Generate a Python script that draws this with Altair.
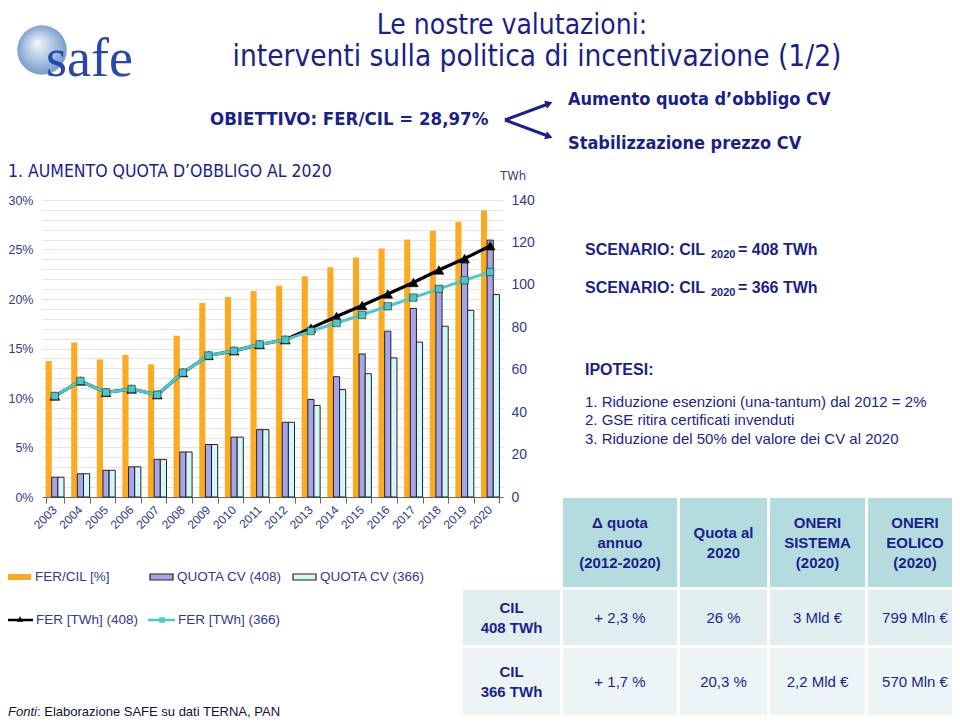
import altair as alt
import pandas as pd

# ---------------- data ----------------
years = [str(y) for y in range(2003, 2021)]
fer_cil_pct = [13.75, 15.6, 13.9, 14.35, 13.4, 16.3, 19.6, 20.2, 20.8, 21.35,
               22.3, 23.2, 24.2, 25.1, 26.0, 26.9, 27.8, 28.97]
quota_cv_408 = [2.0, 2.35, 2.7, 3.05, 3.8, 4.55, 5.3, 6.05, 6.8, 7.55,
                9.85, 12.15, 14.45, 16.75, 19.05, 21.35, 23.65, 25.95]
quota_cv_366 = [2.0, 2.35, 2.7, 3.05, 3.8, 4.55, 5.3, 6.05, 6.8, 7.55,
                9.25, 10.85, 12.45, 14.05, 15.65, 17.25, 18.85, 20.45]
fer_twh_408 = [47.6, 54.7, 49.3, 50.9, 48.2, 58.6, 66.7, 68.9, 71.9, 74.1,
               79.6, 85.1, 90.3, 95.7, 101.1, 107.0, 112.4, 118.4]
fer_twh_366 = [47.6, 54.7, 49.3, 50.9, 48.2, 58.6, 66.7, 68.9, 71.9, 74.1,
               78.2, 82.0, 85.9, 89.9, 94.0, 98.1, 102.2, 106.1]

bar_series = ["FER/CIL [%]", "QUOTA CV (408)", "QUOTA CV (366)"]
line_series = ["FER [TWh] (408)", "FER [TWh] (366)"]

table_header = [["Δ quota", "annuo", "(2012-2020)"], ["Quota al", "2020"],
                ["ONERI", "SISTEMA", "(2020)"], ["ONERI", "EOLICO", "(2020)"]]
table_rowlabels = [["CIL", "408 TWh"], ["CIL", "366 TWh"]]
table_rows = [["+ 2,3 %", "26 %", "3 Mld €", "799 Mln €"],
              ["+ 1,7 %", "20,3 %", "2,2 Mld €", "570 Mln €"]]

ipotesi = ["1. Riduzione esenzioni (una-tantum) dal 2012 = 2%",
           "2. GSE ritira certificati invenduti",
           "3. Riduzione del 50% del valore dei CV al 2020"]

# ---------------- styles ----------------
NAVY = "#1B1F8A"
AXC = "#2F3A8C"
ORANGE = "#FBAA22"
PURPLE = "#A8A4EC"
LCYAN = "#D3F6F6"
CYAN = "#4CC8CA"
SANS = "Liberation Sans, Arial, sans-serif"
NARROW = "Liberation Sans Narrow, Arial Narrow, DejaVu Sans Condensed, sans-serif"
SERIF = "Liberation Serif, DejaVu Serif, serif"

# plot area placement on the page
OX, OY = 42, 200
W, H = 461, 297

bars_df = pd.DataFrame({
    "year": years * 3,
    "series": sum([[s] * len(years) for s in bar_series], []),
    "value": [v / 100 for v in fer_cil_pct + quota_cv_408 + quota_cv_366],
})
lines_df = pd.DataFrame({
    "year": years * 2,
    "series": sum([[s] * len(years) for s in line_series], []),
    "twh": fer_twh_408 + fer_twh_366,
})
years_df = pd.DataFrame({"year": years})

xscale = alt.Scale(paddingInner=0.28, paddingOuter=0.14)
xaxis = alt.Axis(title=None, labels=False, tickBand="extent", tickColor="#666666",
                 tickSize=6, domainColor="#666666", grid=False)
xenc = alt.X("year:N", scale=xscale, sort=years, axis=xaxis)

bars = alt.Chart(bars_df).mark_bar(stroke="#222222").encode(
    x=xenc,
    xOffset=alt.XOffset("series:N", sort=bar_series, scale=alt.Scale(domain=bar_series)),
    y=alt.Y("value:Q", scale=alt.Scale(domain=[0, 0.30], nice=False),
            axis=alt.Axis(title=None, orient="left", values=[i / 100 for i in range(0, 31)],
                          labelExpr="round(datum.value*100) % 5 == 0 ? round(datum.value*100) + '%' : ''",
                          labelFontSize=12.5, labelColor=AXC, labelFont=SANS, ticks=False,
                          domain=False, gridColor="#E4E4E4", labelPadding=9)),
    color=alt.Color("series:N", scale=alt.Scale(domain=bar_series, range=[ORANGE, PURPLE, LCYAN]),
                    legend=None),
    strokeWidth=alt.condition(alt.datum.series == bar_series[0], alt.value(0), alt.value(1)),
)

# rotated year labels, positioned by the shared x band scale
year_labels = alt.Chart(years_df).mark_text(
    angle=315, align="right", baseline="middle", fontSize=12, color=AXC, font=SANS
).encode(x=xenc, y=alt.value(H + 11), text="year:N")

yline = alt.Y("twh:Q", scale=alt.Scale(domain=[0, 140], nice=False),
              axis=alt.Axis(title=None, orient="right", values=list(range(0, 141, 20)),
                            labelFontSize=14, labelColor=AXC, labelFont=SANS, ticks=False,
                            domain=False, grid=False, labelPadding=8))

def line_layer(name, color, shape, size, width):
    d = alt.Chart(lines_df).transform_filter(alt.datum.series == name)
    ln = d.mark_line(color=color, strokeWidth=width).encode(x=xenc, y=yline)
    pt = d.mark_point(shape=shape, filled=True, color=color, size=size, opacity=1,
                      stroke="#222222" if shape != "triangle-up" else color,
                      strokeWidth=0.6).encode(x=xenc, y=yline)
    return ln, pt

l408, p408 = line_layer(line_series[0], "#000000", "triangle-up", 95, 3.2)
l366, p366 = line_layer(line_series[1], CYAN, "square", 55, 3)

lines = alt.layer(l408, p408, l366, p366)
main = alt.layer(bars, lines).resolve_scale(y="independent")

# ---------------- decorations ----------------
one = pd.DataFrame({"k": [0]})

def T(x, y, text, size=14, color=NAVY, weight="normal", font=SANS, align="left",
      baseline="middle", style=None, lh=None):
    kw = dict(fontSize=size, color=color, fontWeight=weight, font=font, align=align,
              baseline=baseline)
    if style:
        kw["fontStyle"] = style
    if lh:
        kw["lineHeight"] = lh
    return alt.Chart(one).mark_text(**kw).encode(
        x=alt.value(x - OX), y=alt.value(y - OY), text=alt.value(text))

def R(x1, y1, x2, y2, fill, stroke=None, sw=0):
    kw = dict(color=fill)
    if stroke:
        kw["stroke"] = stroke
        kw["strokeWidth"] = sw
    return alt.Chart(one).mark_rect(**kw).encode(
        x=alt.value(x1 - OX), x2=alt.value(x2 - OX), y=alt.value(y1 - OY), y2=alt.value(y2 - OY))

def L(x1, y1, x2, y2, color, sw):
    return alt.Chart(one).mark_rule(color=color, strokeWidth=sw).encode(
        x=alt.value(x1 - OX), x2=alt.value(x2 - OX), y=alt.value(y1 - OY), y2=alt.value(y2 - OY))

def P(x, y, shape, color, size, angle=0, stroke=None):
    kw = dict(shape=shape, filled=True, color=color, size=size, opacity=1, angle=angle)
    if stroke:
        kw["stroke"] = stroke
        kw["strokeWidth"] = 0.6
    return alt.Chart(one).mark_point(**kw).encode(x=alt.value(x - OX), y=alt.value(y - OY))

deco = []

# logo
globe = alt.Chart(one).mark_point(
    shape="circle", filled=True, size=2450, opacity=1,
    fill={"gradient": "radial", "x1": 0.4, "y1": 0.35, "r1": 0.0, "x2": 0.5, "y2": 0.5, "r2": 0.55,
          "stops": [{"offset": 0, "color": "#F4F8FC"}, {"offset": 1, "color": "#6E95C8"}]},
    stroke=None).encode(x=alt.value(42 - OX), y=alt.value(50 - OY))
deco.append(globe)
deco.append(T(46, 76, "safe", size=54, color="#2748A6", font=SERIF, baseline="alphabetic"))

# title
deco.append(T(512, 26, "Le nostre valutazioni:", size=28, font=NARROW, align="center"))
deco.append(T(537, 57, "interventi sulla politica di incentivazione (1/2)", size=29.5,
              font=NARROW, align="center"))

# objective + arrows
deco.append(T(210, 119, "OBIETTIVO:   FER/CIL = 28,97%", size=18.5, weight="bold", font=NARROW))
deco.append(L(505, 120, 548, 104, NAVY, 3))
deco.append(L(505, 120, 548, 136, NAVY, 3))
deco.append(P(549, 103.5, "triangle-up", NAVY, 70, angle=70))
deco.append(P(549, 136.5, "triangle-up", NAVY, 70, angle=110))
deco.append(T(568, 100, "Aumento quota d’obbligo CV", size=18, weight="bold", font=NARROW))
deco.append(T(568, 144, "Stabilizzazione prezzo CV", size=18, weight="bold", font=NARROW))

deco.append(T(8, 172, "1.  AUMENTO QUOTA D’OBBLIGO AL 2020", size=17.5, font=NARROW))
deco.append(T(500, 176, "TWh", size=13, color="#3A3F7A", font=NARROW))

# scenario texts
for yy, val in [(250, "= 408 TWh"), (288, "= 366 TWh")]:
    deco.append(T(585, yy, "SCENARIO: CIL", size=16, weight="bold"))
    deco.append(T(711, yy + 5, "2020", size=11, weight="bold"))
    deco.append(T(738, yy, val, size=16, weight="bold"))
deco.append(T(585, 370, "IPOTESI:", size=16, weight="bold"))
for i, s in enumerate(ipotesi):
    deco.append(T(585, 402 + i * 18.3, s, size=15))

# legend
deco.append(R(8, 574, 31, 580, ORANGE))
deco.append(T(35, 577, bar_series[0], size=13.5, color=AXC))
deco.append(R(150, 574, 173, 580, PURPLE, "#222222", 1.2))
deco.append(T(177, 577, bar_series[1], size=13.5, color=AXC))
deco.append(R(293, 574, 316, 580, LCYAN, "#222222", 1.2))
deco.append(T(320, 577, bar_series[2], size=13.5, color=AXC))
deco.append(L(6, 620, 33, 620, "#000000", 2.5))
deco.append(P(20, 619, "triangle-up", "#000000", 40))
deco.append(T(36, 620, line_series[0], size=13.5, color=AXC))
deco.append(L(148, 620, 175, 620, CYAN, 2.5))
deco.append(P(162, 620, "square", CYAN, 30))
deco.append(T(178, 620, line_series[1], size=13.5, color=AXC))

# table
col_x = [(463, 560), (563, 677), (680, 767), (770, 865), (868, 962)]
row_y = [(498, 587), (590, 645), (648, 715)]
row_fill = ["#B4DCDF", "#E1EEF0", "#ECF4F5"]
for ci in range(1, 5):
    x1, x2 = col_x[ci]
    deco.append(R(x1, row_y[0][0], x2, row_y[0][1], row_fill[0]))
    lines_ = table_header[ci - 1]
    cy = (row_y[0][0] + row_y[0][1]) / 2
    deco.append(T((x1 + x2) / 2, cy - (len(lines_) - 1) * 10, lines_, size=15, weight="bold",
                  align="center", baseline="middle", lh=20))
for ri in range(2):
    y1, y2 = row_y[ri + 1]
    cy = (y1 + y2) / 2
    for ci in range(5):
        x1, x2 = col_x[ci]
        deco.append(R(x1, y1, x2, y2, row_fill[ri + 1]))
    deco.append(T((col_x[0][0] + col_x[0][1]) / 2, cy - 10, table_rowlabels[ri], size=15,
                  weight="bold", align="center", lh=20))
    for ci in range(1, 5):
        x1, x2 = col_x[ci]
        deco.append(T((x1 + x2) / 2, cy, table_rows[ri][ci - 1], size=15, align="center"))

# footnote
deco.append(T(8, 712, "Fonti", size=13, color="#111133", style="italic"))
deco.append(T(37, 712, ": Elaborazione SAFE su dati TERNA, PAN", size=13, color="#111133"))

chart = alt.layer(main, year_labels, *deco).properties(
    width=W, height=H,
    padding={"left": OX - 8, "top": OY - 8, "right": 944 - (OX - 8) - W, "bottom": 714 - (OY - 8) - H},
    autosize=alt.AutoSizeParams(type="none"),
    background="white",
).configure_view(stroke=None)

chart.save("out.html", embed_options={"renderer": "svg", "actions": False})
